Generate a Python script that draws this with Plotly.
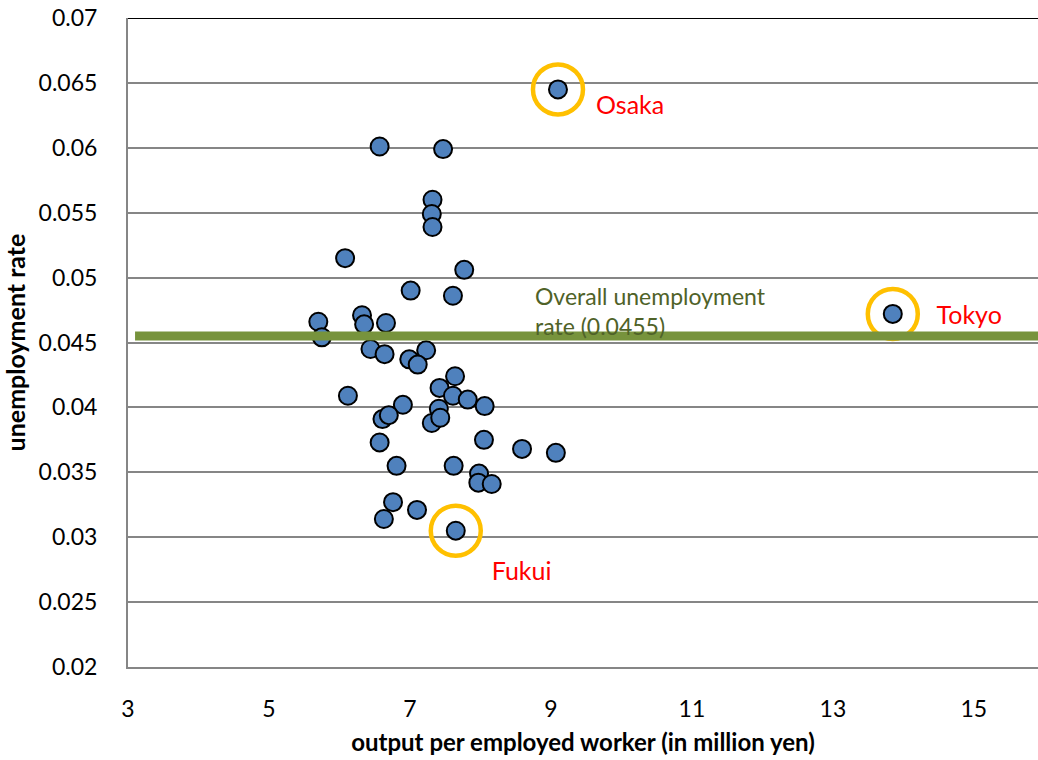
import plotly.graph_objects as go

# output per employed worker (million yen)
output_per_worker = [
    9.10, 13.85, 7.65,
    6.57, 7.47, 7.32, 7.31, 7.32, 6.08, 7.77, 7.01, 7.61,
    5.70, 6.32, 6.35, 6.66, 5.75, 6.44, 6.64, 6.99, 7.23, 7.11,
    6.12, 7.64, 7.42, 7.61, 7.82, 8.06, 6.90, 6.61, 6.70, 7.41,
    7.31, 7.43, 6.57, 8.05, 6.81, 7.62, 7.98, 7.97, 8.16, 6.76,
    7.10, 6.63, 8.59, 9.07,
]
# unemployment rate
unemployment = [
    0.0645, 0.0472, 0.0305,
    0.0601, 0.0599, 0.0560, 0.0549, 0.0539, 0.0515, 0.0506, 0.0490, 0.0486,
    0.0466, 0.0471, 0.0464, 0.0465, 0.0454, 0.0445, 0.0441, 0.0437, 0.0444, 0.0433,
    0.0409, 0.0424, 0.0415, 0.0409, 0.0406, 0.0401, 0.0402, 0.0391, 0.0394, 0.0399,
    0.0388, 0.0392, 0.0373, 0.0375, 0.0355, 0.0355, 0.0349, 0.0342, 0.0341, 0.0327,
    0.0321, 0.0314, 0.0368, 0.0365,
]

highlight_names = ["Osaka", "Tokyo", "Fukui"]
highlight_x = [9.10, 13.85, 7.65]
highlight_y = [0.0645, 0.0472, 0.0305]
label_x = [9.64, 14.47, 8.16]
label_y = [0.0631, 0.0469, 0.0272]

overall_rate = 0.0455
overall_label = "Overall unemployment<br>rate (0.0455)"
overall_label_x = 8.74
overall_label_y = 0.04743

x_ticks = [3, 5, 7, 9, 11, 13, 15]
y_ticks = [0.02, 0.025, 0.03, 0.035, 0.04, 0.045, 0.05, 0.055, 0.06, 0.065, 0.07]
y_tick_text = ["0.02", "0.025", "0.03", "0.035", "0.04", "0.045", "0.05", "0.055", "0.06", "0.065", "0.07"]

FONT = "Lato"

fig = go.Figure()

fig.add_trace(go.Scatter(
    x=output_per_worker, y=unemployment, mode="markers",
    marker=dict(size=18, color="#4F81BD", line=dict(color="black", width=2)),
    showlegend=False, cliponaxis=False,
))

fig.add_trace(go.Scatter(
    x=highlight_x, y=highlight_y, mode="markers",
    marker=dict(symbol="circle-open", size=50, color="#FFC000", line=dict(color="#FFC000", width=4.5)),
    showlegend=False, cliponaxis=False,
))

fig.add_trace(go.Scatter(
    x=label_x, y=label_y, mode="text", text=highlight_names,
    textposition="middle right",
    textfont=dict(family=FONT, size=25, color="#FF0000"),
    showlegend=False, cliponaxis=False,
))

# overall unemployment line
fig.add_shape(type="line", xref="x", yref="y", x0=3.1, x1=15.91,
              y0=overall_rate, y1=overall_rate,
              line=dict(color="#77933C", width=9), layer="above")
# top border
fig.add_shape(type="line", xref="paper", yref="y", x0=0, x1=1,
              y0=0.07, y1=0.07, line=dict(color="black", width=2), layer="above")

fig.add_annotation(x=overall_label_x, y=overall_label_y, xref="x", yref="y", text=overall_label,
                   showarrow=False, xanchor="left", yanchor="middle", align="left",
                   font=dict(family=FONT, size=23, color="#4F6228"))

fig.update_layout(
    width=1038, height=760,
    margin=dict(l=128, r=0, t=18, b=93),
    plot_bgcolor="white", paper_bgcolor="white",
    font=dict(family=FONT, size=23, color="black"),
    xaxis=dict(
        range=[3, 15.91], tickmode="array", tickvals=x_ticks,
        showgrid=False, zeroline=False,
        showline=True, linecolor="#868686", linewidth=2,
        ticks="outside", ticklen=0, ticklabelstandoff=20,
        tickfont=dict(family=FONT, size=23),
        title=dict(text="<b>output per employed worker (in million yen)</b>",
                   font=dict(family=FONT, size=24), standoff=14),
    ),
    yaxis=dict(
        range=[0.02, 0.07], tickmode="array", tickvals=y_ticks, ticktext=y_tick_text,
        showgrid=True, gridcolor="#868686", gridwidth=2, zeroline=False,
        showline=True, linecolor="#868686", linewidth=2,
        ticks="outside", ticklen=0, ticklabelstandoff=24,
        tickfont=dict(family=FONT, size=23),
        title=dict(text="<b>unemployment rate</b>",
                   font=dict(family=FONT, size=25), standoff=14),
    ),
)

fig.write_html("out.html", config={"displayModeBar": False},
               post_script="document.body.style.margin='0';document.body.style.overflow='hidden';")
